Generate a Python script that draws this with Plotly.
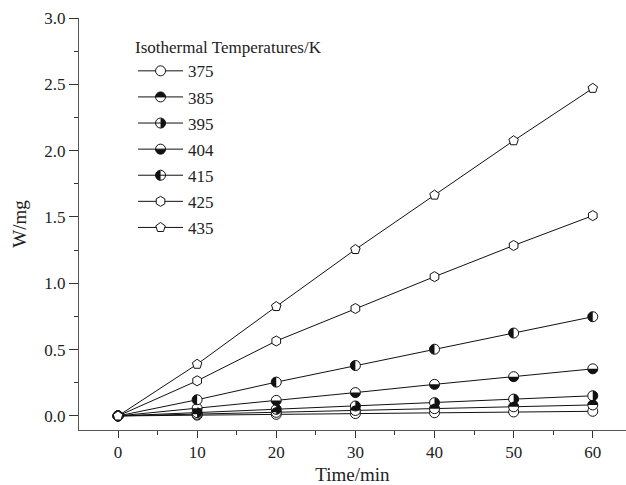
import plotly.graph_objects as go

time_min = [0, 10, 20, 30, 40, 50, 60]
temps = ["375", "385", "395", "404", "415", "425", "435"]
w_375 = [0, 0.006, 0.012, 0.018, 0.024, 0.030, 0.035]
w_385 = [0, 0.013, 0.027, 0.041, 0.055, 0.069, 0.083]
w_395 = [0, 0.025, 0.050, 0.075, 0.100, 0.127, 0.152]
w_404 = [0, 0.058, 0.117, 0.176, 0.238, 0.296, 0.355]
w_415 = [0, 0.122, 0.255, 0.380, 0.503, 0.625, 0.748]
w_425 = [0, 0.265, 0.565, 0.810, 1.050, 1.285, 1.510]
w_435 = [0, 0.390, 0.825, 1.255, 1.665, 2.075, 2.470]
series = [w_375, w_385, w_395, w_404, w_415, w_425, w_435]
symbols = ["circle", "circle", "circle", "circle", "circle", "hexagon", "pentagon"]
half_fill = [None, "top", "right", "bottom", "left", None, None]

R = 5.0
K = 0.5523 * R
HALF_PATHS = {
    "top": f"M {-R},0 C {-R},{K} {-K},{R} 0,{R} C {K},{R} {R},{K} {R},0 Z",
    "bottom": f"M {-R},0 C {-R},{-K} {-K},{-R} 0,{-R} C {K},{-R} {R},{-K} {R},0 Z",
    "right": f"M 0,{-R} C {K},{-R} {R},{-K} {R},0 C {R},{K} {K},{R} 0,{R} Z",
    "left": f"M 0,{-R} C {-K},{-R} {-R},{-K} {-R},0 C {-R},{K} {-K},{R} 0,{R} Z",
}

# layout geometry (pixels)
W, H = 626, 485
ML, MR, MT, MB = 79, 0, 18, 55
PW, PH = W - ML - MR, H - MT - MB
LEG_X, LEG_Y = 0.0988, 0.968
ITEM_W = 45
LEG_MARK_X = ML + LEG_X * PW + (ITEM_W + 10) / 2
FIRST_ITEM_Y = 71.0
ITEM_STEP = 26.1

serif = "Liberation Serif"
fig = go.Figure()
shapes = []
for i, (name, ys, sym, hf) in enumerate(zip(temps, series, symbols, half_fill)):
    if hf:
        # the origin point sits under the pentagon; its (first) colour is what the legend shows
        mcolor = ["rgba(255,255,255,0)"] + ["white"] * (len(ys) - 1)
    else:
        mcolor = "white"
    fig.add_trace(go.Scatter(
        x=time_min, y=ys, name=name, mode="lines+markers", legendgroup=name,
        line=dict(color="#111", width=1),
        marker=dict(symbol=sym, size=10, color=mcolor, line=dict(color="#111", width=1)),
    ))
    if hf:
        for xv, yv in zip(time_min, ys):
            if xv == 0:
                continue  # hidden under the pentagon at the origin
            shapes.append(dict(
                type="path", xref="x", yref="y", xsizemode="pixel", ysizemode="pixel",
                xanchor=xv, yanchor=yv, path=HALF_PATHS[hf],
                fillcolor="#111", line=dict(width=0), layer="above",
            ))
        # matching half fill on the legend symbol
        py = FIRST_ITEM_Y + ITEM_STEP * i
        shapes.append(dict(
            type="path", xref="paper", yref="paper", xsizemode="pixel", ysizemode="pixel",
            xanchor=(LEG_MARK_X - ML) / PW, yanchor=(MT + PH - py) / PH, path=HALF_PATHS[hf],
            fillcolor="#111", line=dict(width=0), layer="above",
        ))

axis_common = dict(showline=True, linecolor="#555", linewidth=1, showgrid=False,
                   zeroline=False, tickcolor="#333", ticks="outside",
                   tickfont=dict(family=serif, size=17, color="#222"))

fig.update_layout(
    width=W, height=H,
    margin=dict(l=ML, r=MR, t=MT, b=MB),
    paper_bgcolor="white", plot_bgcolor="white",
    showlegend=True,
    shapes=shapes,
    legend=dict(
        title=dict(text="Isothermal Temperatures/K", font=dict(family=serif, size=17, color="#222")),
        x=LEG_X, y=LEG_Y, xanchor="left", yanchor="top",
        font=dict(family=serif, size=17, color="#222"),
        bgcolor="rgba(0,0,0,0)", traceorder="grouped", tracegroupgap=1, itemwidth=ITEM_W,
    ),
    xaxis=dict(
        range=[-4.93, 64.2], tickvals=[0, 10, 20, 30, 40, 50, 60], ticklen=7,
        minor=dict(tickvals=[5, 15, 25, 35, 45, 55], ticklen=4, ticks="outside", tickcolor="#333"),
        title=dict(text="Time/min", font=dict(family=serif, size=19, color="#222"), standoff=6),
        **axis_common,
    ),
    xaxis2=dict(
        overlaying="x", side="top", range=[-4.93, 64.2], showline=True, linecolor="#555",
        linewidth=1, showgrid=False, zeroline=False, ticks="inside", ticklen=7,
        tickcolor="#333", tickvals=[9, 23, 37, 51], showticklabels=False,
        minor=dict(tickvals=[2, 16, 30, 44, 58], ticklen=4, ticks="inside", tickcolor="#333"),
    ),
    yaxis=dict(
        range=[-0.106, 3.0], tickvals=[0, 0.5, 1.0, 1.5, 2.0, 2.5, 3.0], tickformat=".1f",
        ticklen=9,
        minor=dict(tickvals=[0.25, 0.75, 1.25, 1.75, 2.25, 2.75], ticklen=4, ticks="outside", tickcolor="#333"),
        title=dict(text="W/mg", font=dict(family=serif, size=19, color="#222"), standoff=12),
        **axis_common,
    ),
)

fig.write_html("out.html")
